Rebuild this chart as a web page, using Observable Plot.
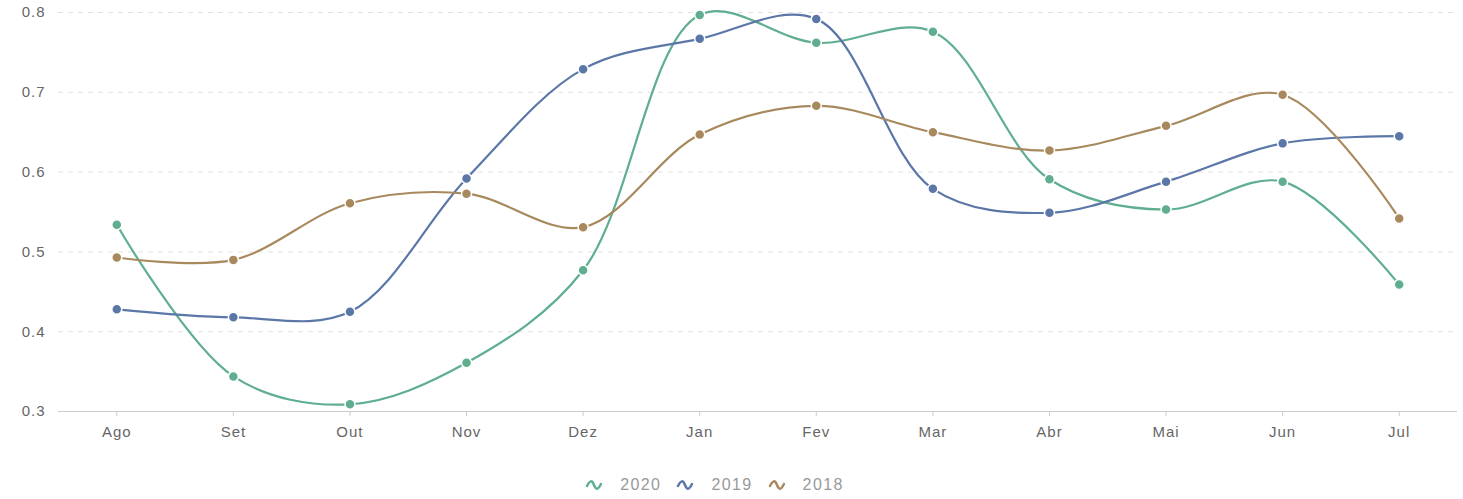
<!DOCTYPE html>
<html>
<head>
<meta charset="utf-8">
<script src="https://cdn.jsdelivr.net/npm/d3@7"></script>
<script src="https://cdn.jsdelivr.net/npm/@observablehq/plot@0.6"></script>
<style>
  html, body { margin: 0; padding: 0; background: #fff; }
  body { width: 1463px; height: 499px; overflow: hidden; font-family: "Liberation Sans", Arial, sans-serif; }
  #legend { display: flex; justify-content: center; gap: 15px; margin-top: 20px; padding-right: 34px; font-size: 16px; letter-spacing: 1.4px; color: #999; line-height: 20px; }
  #legend .item { display: flex; align-items: center; gap: 17px; }
  #legend svg { display: block; }
</style>
</head>
<body>
<div id="chart"></div>
<div id="legend"></div>
<script>
const months = ["Ago","Set","Out","Nov","Dez","Jan","Fev","Mar","Abr","Mai","Jun","Jul"];
const seriesNames = ["2020","2019","2018"];
const colors = ["#5fae8f","#5b77a8","#a8895e"];
const values2020 = [0.534,0.344,0.309,0.361,0.477,0.797,0.762,0.776,0.591,0.553,0.588,0.459];
const values2019 = [0.428,0.418,0.425,0.592,0.729,0.767,0.792,0.579,0.549,0.588,0.636,0.645];
const values2018 = [0.493,0.490,0.561,0.573,0.531,0.647,0.683,0.650,0.627,0.658,0.697,0.542];
const yTicks = [0.3,0.4,0.5,0.6,0.7,0.8];

const seriesValues = [values2020, values2019, values2018];
const data = [];
seriesNames.forEach((s, i) => months.forEach((m, j) => data.push({series: s, month: m, value: seriesValues[i][j]})));

const chart = Plot.plot({
  width: 1463,
  height: 455,
  marginLeft: 58,
  marginRight: 6,
  marginTop: 12,
  marginBottom: 44,
  style: {fontFamily: "'Liberation Sans', Arial, sans-serif", fontSize: "15px", letterSpacing: "1px", color: "#666", background: "#fff"},
  x: {type: "band", domain: months, padding: 0, align: 0.5, round: false},
  y: {domain: [0.3, 0.8]},
  color: {domain: seriesNames, range: colors},
  marks: [
    Plot.gridY(yTicks.slice(1), {stroke: "#e2e2e2", strokeOpacity: 1, strokeDasharray: "5,5"}),
    Plot.ruleY([0.3], {stroke: "#cccccc"}),
    Plot.axisY({ticks: yTicks, tickSize: 0, tickPadding: 13, tickFormat: d3.format(".1f"), label: null, fill: "#666"}),
    Plot.axisX({tickSize: 5, tickPadding: 10, label: null, stroke: "#ccc", fill: "#666"}),
    Plot.lineY(data, {x: "month", y: "value", z: "series", stroke: "series", strokeWidth: 2.2, curve: "catmull-rom"}),
    Plot.dot(data, {x: "month", y: "value", fill: "series", stroke: "#fff", strokeWidth: 1.5, r: 5})
  ]
});
document.getElementById("chart").appendChild(chart);

const legend = document.getElementById("legend");
seriesNames.forEach((s, i) => {
  const item = document.createElement("div");
  item.className = "item";
  item.innerHTML = `<svg width="18" height="12" viewBox="0 0 18 12"><path d="M2,7 C5,1 7,1 9,6 C11,11 13,11 16,5" fill="none" stroke="${colors[i]}" stroke-width="2.5" stroke-linecap="round"/></svg><span>${s}</span>`;
  legend.appendChild(item);
});
</script>
</body>
</html>
